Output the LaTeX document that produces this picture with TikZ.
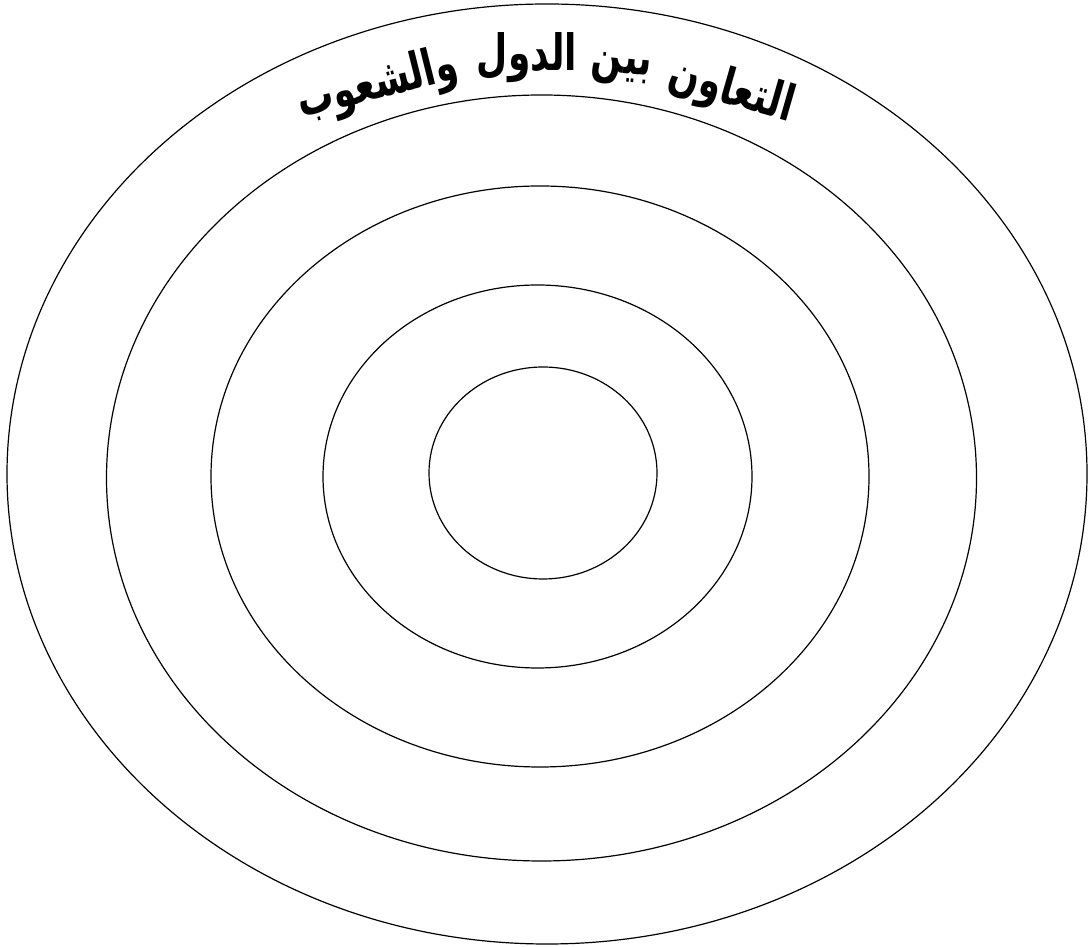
\documentclass[tikz,border=0pt]{standalone}
\usepackage{fontspec}
\newfontfamily\arabicfont[Script=Arabic]{DejaVu Sans}
\TeXXeTstate=1
\newcommand{\arword}[1]{\scalebox{0.72}[1]{\beginR #1\endR}}
\begin{document}
\begin{tikzpicture}[x=1pt,y=1pt,
  ring/.style={draw=black,line width=1.2pt},
  word/.style={font=\arabicfont\bfseries\fontsize{50}{56}\selectfont,inner sep=0pt,anchor=base}]
\useasboundingbox (0,0) rectangle (1089,947);
\draw[ring] (547,473) ellipse [x radius=540,y radius=470];
\draw[ring] (541.5,469) ellipse [x radius=435,y radius=383];
\draw[ring] (540,470.5) ellipse [x radius=329,y radius=290.5];
\draw[ring] (537.5,470.5) ellipse [x radius=214.5,y radius=191.5];
\draw[ring] (543,474) ellipse [x radius=114,y radius=106];
\node[word,rotate=-16] (w1) at (728,843) {\arword{التعاون}};
\node[word,rotate=-5] (w2) at (621,874) {\arword{بين}};
\node[word,rotate=0] (w3) at (527,876) {\arword{الدول}};
\node[word,rotate=14] (w4) at (381,849) {\arword{والشعوب}};
\end{tikzpicture}
\end{document}
